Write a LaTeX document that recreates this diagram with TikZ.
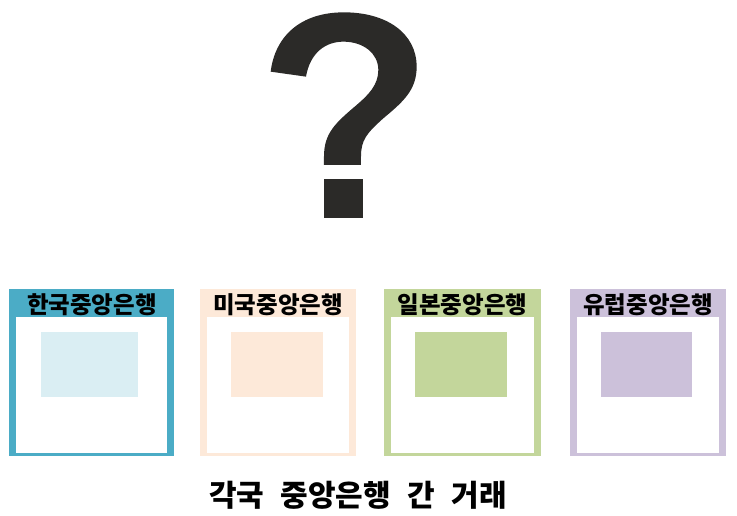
\documentclass[tikz,border=0pt]{standalone}
\usepackage{fontspec}
\newfontfamily\kr{Noto Sans CJK KR}
\newfontfamily\krw{Noto Sans CJK KR}[WordSpace=2.4]
\definecolor{qmark}{HTML}{2B2A28}
\definecolor{kbor}{HTML}{4BACC6}
\definecolor{kin}{HTML}{DAEEF3}
\definecolor{ubor}{HTML}{FDE9D9}
\definecolor{uin}{HTML}{FDE9D9}
\definecolor{jbor}{HTML}{C3D69B}
\definecolor{jin}{HTML}{C3D69B}
\definecolor{ebor}{HTML}{CCC1DA}
\definecolor{ein}{HTML}{CCC1DA}
\tikzset{
  hdr/.style={font=\kr\bfseries\fontsize{23.5pt}{26pt}\selectfont, text=black, anchor=base, inner sep=0pt},
  bottomtxt/.style={font=\krw\bfseries\fontsize{30pt}{34pt}\selectfont, text=black, anchor=base, inner sep=0pt}
}
\begin{document}
\begin{tikzpicture}[x=1pt,y=-1pt]
\useasboundingbox (0,0) rectangle (737,516);
\fill[white] (0,0) rectangle (737,516);
% question mark
\begin{scope}[shift={(250,0)}, x=0.3333pt, y=-0.3333pt]
\fill[qmark] (62,215) -- (168,230)
  .. controls (180,160) and (225,125) .. (280,125)
  .. controls (340,125) and (385,160) .. (385,210)
  .. controls (385,255) and (355,285) .. (320,315)
  .. controls (255,370) and (222,400) .. (222,470)
  -- (222,495) -- (333,495) -- (333,470)
  .. controls (333,420) and (350,400) .. (400,355)
  .. controls (460,305) and (500,270) .. (500,200)
  .. controls (500,100) and (410,37) .. (282,37)
  .. controls (150,37) and (75,110) .. (62,215) -- cycle;
\fill[qmark] (222,537) rectangle (340,655);
\end{scope}
% boxes
\fill[kbor] (9,289) rectangle (174,456);
\fill[white] (16,317) rectangle (167,453);
\fill[kin] (41,332) rectangle (138,397);
\node[hdr] (kor) at (92,313) {한국중앙은행};

\fill[ubor] (200,289) rectangle (356,456);
\fill[white] (207,317) rectangle (349,453);
\fill[uin] (231,332) rectangle (323,397);
\node[hdr] (usa) at (278,313) {미국중앙은행};

\fill[jbor] (384,289) rectangle (541,456);
\fill[white] (391,317) rectangle (534,453);
\fill[jin] (415,332) rectangle (507,397);
\node[hdr] (jpn) at (462.5,313) {일본중앙은행};

\fill[ebor] (570,289) rectangle (726,456);
\fill[white] (577,317) rectangle (719,453);
\fill[ein] (601,332) rectangle (692,397);
\node[hdr] (eur) at (648,313) {유럽중앙은행};

\node[bottomtxt] (title) at (358,506) {각국 중앙은행 간 거래};
\end{tikzpicture}
\end{document}
